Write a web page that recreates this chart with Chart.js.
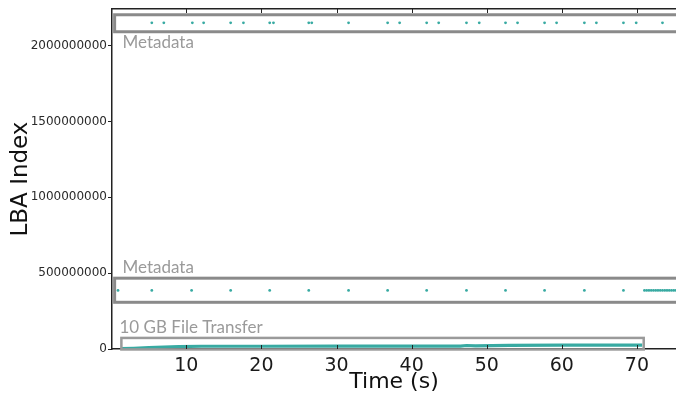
<!DOCTYPE html>
<html>
<head>
<meta charset="utf-8">
<script src="https://cdn.jsdelivr.net/npm/chart.js@4.4.0/dist/chart.umd.min.js"></script>
<style>
  body { margin: 0; background: #fff; }
  #wrap { width: 676px; height: 396px; }
</style>
</head>
<body>
<div id="wrap"><canvas id="lbaChart"></canvas></div>
<script>
// upper metadata writes (seconds)
const upperMetaTimes = [5.4, 7.0, 10.8, 12.3, 15.9, 17.6, 21.1, 21.6, 26.3, 26.7, 31.6, 36.8, 38.4,
    42.0, 43.6, 47.3, 49.0, 52.5, 54.1, 57.7, 59.3, 63.0, 64.6, 68.2, 69.9, 73.4];
const upperMetaLba = 2151000000;

// lower metadata writes (seconds)
const lowerMetaTimes = [0.9, 5.4, 10.7, 15.9, 21.1, 26.3, 31.6, 36.8, 42.0, 47.3, 52.5, 57.7, 63.0, 68.2,
    71.0, 71.3, 71.6, 71.9, 72.2, 72.5, 72.8, 73.1, 73.4, 73.7, 74.0, 74.3, 74.6, 74.9, 75.2];
const lowerMetaLba = 386000000;

// 10 GB file transfer
const transferTimes = [1.3, 3.0, 5.0, 7.0, 9.0, 12.0, 20.0, 30.0, 40.0, 46.5, 47.3, 48.5, 53.0, 60.0, 70.7];
const transferLba = [3000000, 5000000, 9000000, 13000000, 16000000, 18000000, 18000000, 19000000,
    19000000, 19000000, 23000000, 20000000, 24000000, 25000000, 25000000];

const xTicks = [10, 20, 30, 40, 50, 60, 70];
const yTicks = [0, 500000000, 1000000000, 1500000000, 2000000000];

const teal = '#38aaa2';
const axisColor = '#222';

// boxes and captions, in data units
const bands = [
    { x0: 0.45, x1: 80, y0: 2092000000, y1: 2204000000, width: 3, color: '#8a8a8a',
      text: 'Metadata', tx: 1.5, ty: 1986000000 },
    { x0: 0.45, x1: 80, y0: 308000000, y1: 467000000, width: 3, color: '#8a8a8a',
      text: 'Metadata', tx: 1.5, ty: 498000000 },
    { x0: 1.35, x1: 70.9, y0: -3000000, y1: 73000000, width: 2.5, color: '#9a9a9a',
      text: '10 GB File Transfer', tx: 1.1, ty: 108000000 }
];

const bandPlugin = {
    id: 'bands',
    afterDatasetsDraw(chart) {
        const { ctx, chartArea, scales: { x, y } } = chart;
        ctx.save();
        ctx.beginPath();
        ctx.rect(chartArea.left, 0, chartArea.right - chartArea.left, chartArea.bottom + 2);
        ctx.clip();
        bands.forEach(b => {
            const l = x.getPixelForValue(b.x0), r = x.getPixelForValue(b.x1);
            const t = y.getPixelForValue(b.y1), btm = y.getPixelForValue(b.y0);
            ctx.strokeStyle = b.color;
            ctx.lineWidth = b.width;
            ctx.strokeRect(l, t, r - l, btm - t);
            ctx.fillStyle = '#9a9a9a';
            ctx.font = '17px Lato';
            ctx.textBaseline = 'alphabetic';
            ctx.fillText(b.text, x.getPixelForValue(b.tx), y.getPixelForValue(b.ty));
        });
        ctx.restore();

        // inward tick marks on top and bottom spines
        ctx.save();
        ctx.strokeStyle = axisColor;
        ctx.lineWidth = 1;
        xTicks.forEach(v => {
            const px = Math.round(x.getPixelForValue(v)) + 0.5;
            ctx.beginPath();
            ctx.moveTo(px, chartArea.bottom);
            ctx.lineTo(px, chartArea.bottom - 4);
            ctx.moveTo(px, chartArea.top);
            ctx.lineTo(px, chartArea.top + 4);
            ctx.stroke();
        });
        ctx.restore();
    }
};

const ctx = document.getElementById('lbaChart').getContext('2d');

new Chart(ctx, {
    type: 'scatter',
    data: {
        datasets: [{
            label: 'Metadata (upper)',
            data: upperMetaTimes.map(t => ({ x: t, y: upperMetaLba })),
            backgroundColor: teal,
            borderWidth: 0,
            pointRadius: 1.4
        }, {
            label: 'Metadata (lower)',
            data: lowerMetaTimes.map(t => ({ x: t, y: lowerMetaLba })),
            backgroundColor: teal,
            borderWidth: 0,
            pointRadius: 1.4
        }, {
            label: '10 GB File Transfer',
            data: transferTimes.map((t, i) => ({ x: t, y: transferLba[i] })),
            showLine: true,
            borderColor: teal,
            borderWidth: 3.2,
            pointRadius: 0
        }]
    },
    options: {
        responsive: true,
        maintainAspectRatio: false,
        devicePixelRatio: 1,
        animation: false,
        layout: { padding: 0, autoPadding: false },
        plugins: {
            legend: { display: false },
            tooltip: { enabled: false }
        },
        scales: {
            x: {
                type: 'linear',
                position: 'bottom',
                min: 0.1,
                max: 75.2,
                afterBuildTicks: scale => { scale.ticks = xTicks.map(v => ({ value: v })); },
                afterFit: scale => { scale.height = 47; },
                grid: { drawOnChartArea: false, drawTicks: false },
                border: { display: true, color: axisColor, width: 1.5 },
                ticks: {
                    padding: 6,
                    color: '#1a1a1a',
                    font: { family: 'DejaVu Sans', size: 19 },
                    maxRotation: 0
                },
                title: {
                    display: true,
                    text: 'Time (s)',
                    color: '#111',
                    font: { family: 'DejaVu Sans', size: 22 },
                    padding: { top: 0, bottom: 1 }
                }
            },
            x2: {
                type: 'linear',
                position: 'top',
                min: 0.1,
                max: 75.2,
                afterFit: scale => { scale.height = 9; },
                grid: { display: false },
                border: { display: true, color: axisColor, width: 1.5 },
                ticks: { display: false }
            },
            y: {
                type: 'linear',
                min: 0,
                max: 2242000000,
                afterBuildTicks: scale => { scale.ticks = yTicks.map(v => ({ value: v })); },
                afterFit: scale => { scale.width = 112; },
                grid: { drawOnChartArea: false, drawTicks: true, tickLength: 4, color: axisColor },
                border: { display: true, color: axisColor, width: 1.5 },
                ticks: {
                    padding: 1,
                    color: '#2a2a2a',
                    font: { family: 'DejaVu Sans', size: 12 },
                    callback: value => String(value)
                },
                title: {
                    display: true,
                    text: 'LBA Index',
                    color: '#111',
                    font: { family: 'DejaVu Sans', size: 23 },
                    padding: { top: 7, bottom: 0 }
                }
            }
        }
    },
    plugins: [bandPlugin]
});
</script>
</body>
</html>
